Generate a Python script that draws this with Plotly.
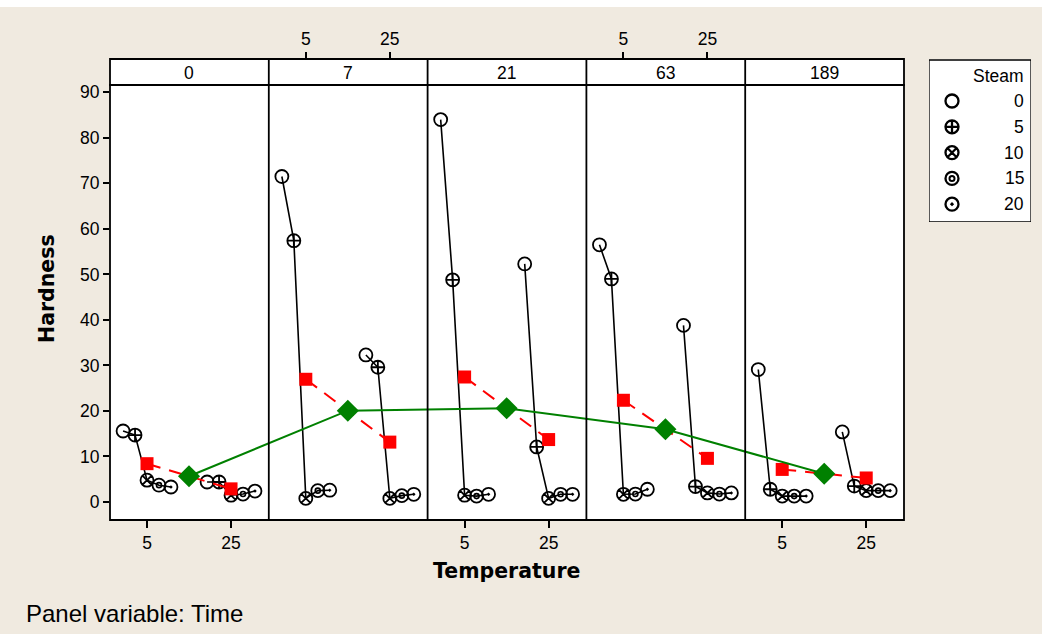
import plotly.graph_objects as go

# ---------------- data ----------------
times = [0, 7, 21, 63, 189]
temperatures = [5, 25]
steam_levels = [0, 5, 10, 15, 20]
# hardness by time (rows) and steam (columns), for each temperature
hardness_temp5 = [
    [15.6, 14.7, 4.8, 3.7, 3.3],
    [71.5, 57.4, 0.8, 2.5, 2.6],
    [84.0, 48.8, 1.5, 1.3, 1.7],
    [56.5, 49.0, 1.7, 1.75, 2.8],
    [29.1, 2.8, 1.3, 1.3, 1.3],
]
hardness_temp25 = [
    [4.4, 4.4, 1.5, 1.75, 2.4],
    [32.3, 29.6, 0.8, 1.4, 1.7],
    [52.3, 12.1, 0.8, 1.7, 1.7],
    [38.8, 3.4, 2.0, 1.75, 2.0],
    [15.4, 3.5, 2.5, 2.5, 2.5],
]
y_ticks = [0, 10, 20, 30, 40, 50, 60, 70, 80, 90]

# ---------------- layout constants ----------------
W, H = 1042, 634
ML, MR, MT, MB = 110, 8, 59, 114
PW, PH = W - ML - MR, H - MT - MB
PLOT_RIGHT = 904
STRIP_BOTTOM = 85


def px_x(px):
    return (px - ML) / PW


def px_y(py):
    return (H - MB - py) / PH


PANEL = 37.8          # width of one panel in x units
X0 = -3.81            # left edge of first panel in x units
STEAM_SHIFT = 0.57    # x dodge per unit of steam
BEIGE = "#F0EAE0"
FONT = "Liberation Sans"

symbols = ["circle-open", "circle-cross-open", "circle-x-open", "circle-open", "circle-open-dot"]

hard_by_temp = {5: hardness_temp5, 25: hardness_temp25}

fig = go.Figure()

green_x, green_y = [], []
inner_x, inner_y = [], []
for p, t in enumerate(times):
    means = []
    for temp in temperatures:
        vals = hard_by_temp[temp][p]
        xs = [p * PANEL + temp + (s - 10) * STEAM_SHIFT for s in steam_levels]
        fig.add_trace(go.Scatter(
            x=xs, y=vals, mode="lines+markers",
            line=dict(color="black", width=1.6),
            marker=dict(symbol=symbols, size=13, color="black",
                        line=dict(color="black", width=1.8)),
            showlegend=False, hoverinfo="skip"))
        inner_x.append(xs[3])
        inner_y.append(vals[3])
        means.append(sum(vals) / len(vals))
    fig.add_trace(go.Scatter(
        x=[p * PANEL + temp for temp in temperatures], y=means,
        mode="lines+markers",
        line=dict(color="#FF0000", width=2, dash="14px,9px"),
        marker=dict(symbol="square", size=13, color="#FF0000"),
        showlegend=False, hoverinfo="skip"))
    green_x.append(p * PANEL + sum(temperatures) / 2)
    green_y.append(sum(means) / 2)

# inner ring for the steam = 15 symbol
fig.add_trace(go.Scatter(
    x=inner_x, y=inner_y, mode="markers",
    marker=dict(symbol="circle-open", size=5, color="black",
                line=dict(color="black", width=1.6)),
    showlegend=False, hoverinfo="skip"))

fig.add_trace(go.Scatter(
    x=green_x, y=green_y, mode="lines+markers",
    line=dict(color="#008000", width=2),
    marker=dict(symbol="diamond", size=17, color="#008000"),
    showlegend=False, hoverinfo="skip"))

# ticks
bottom_vals, bottom_text, top_vals, top_text = [], [], [], []
for p in range(len(times)):
    for temp in temperatures:
        if p % 2 == 0:
            bottom_vals.append(p * PANEL + temp)
            bottom_text.append(str(temp))
        else:
            top_vals.append(p * PANEL + temp)
            top_text.append(str(temp))

# invisible trace to register the top axis
fig.add_trace(go.Scatter(x=top_vals, y=[None] * len(top_vals), xaxis="x2", yaxis="y",
                         mode="markers", showlegend=False, hoverinfo="skip"))

# custom legend (pixel coordinate axes)
leg_y = [101 + i * 25.8 for i in range(len(steam_levels))]
leg_x = [952] * len(steam_levels)
fig.add_trace(go.Scatter(
    x=leg_x, y=leg_y, xaxis="x3", yaxis="y3", mode="markers",
    marker=dict(symbol=symbols, size=13, color="black",
                line=dict(color="black", width=2.3)),
    showlegend=False, hoverinfo="skip"))
fig.add_trace(go.Scatter(
    x=[leg_x[3]], y=[leg_y[3]], xaxis="x3", yaxis="y3", mode="markers",
    marker=dict(symbol="circle-open", size=5, color="black",
                line=dict(color="black", width=2)),
    showlegend=False, hoverinfo="skip"))

x_range = [X0, X0 + len(times) * PANEL]
tickfont = dict(family=FONT, size=17.5, color="black")

shapes = []
# top white band (web page artefact)
shapes.append(dict(type="rect", xref="paper", yref="paper",
                   x0=px_x(0), x1=px_x(W), y0=px_y(7), y1=px_y(0),
                   fillcolor="white", line=dict(width=0), layer="below"))
# strip background
shapes.append(dict(type="rect", xref="paper", yref="paper",
                   x0=0, x1=px_x(PLOT_RIGHT), y0=px_y(STRIP_BOTTOM), y1=1,
                   fillcolor="white", line=dict(color="black", width=1.8)))
# outer frame of data area
shapes.append(dict(type="rect", xref="paper", yref="paper",
                   x0=0, x1=px_x(PLOT_RIGHT), y0=0, y1=px_y(STRIP_BOTTOM),
                   line=dict(color="black", width=1.8)))
# panel dividers
for p in range(1, len(times)):
    shapes.append(dict(type="line", xref="x", yref="paper",
                       x0=X0 + p * PANEL, x1=X0 + p * PANEL, y0=0, y1=1,
                       line=dict(color="black", width=1.8)))
# legend box
shapes.append(dict(type="rect", xref="x3", yref="y3",
                   x0=929, x1=1031, y0=60, y1=222,
                   fillcolor="white", line=dict(color="black", width=1.3),
                   layer="below"))

annotations = []
for p, t in enumerate(times):
    annotations.append(dict(x=p * PANEL + sum(temperatures) / 2, xref="x",
                            y=px_y(72.5), yref="paper", text=str(t),
                            xanchor="center", yanchor="middle",
                            showarrow=False, font=tickfont))
legfont = dict(family=FONT, size=17.5, color="black")
annotations.append(dict(x=1026, y=76, xref="x3", yref="y3", text="Steam",
                        xanchor="right", yanchor="middle", showarrow=False,
                        font=legfont))
for s, yy in zip(steam_levels, leg_y):
    annotations.append(dict(x=1026, y=yy, xref="x3", yref="y3", text=str(s),
                            xanchor="right", yanchor="middle", showarrow=False,
                            font=legfont))
annotations.append(dict(x=px_x(506), y=px_y(571), xref="paper", yref="paper",
                        text="<b>Temperature</b>", showarrow=False,
                        xanchor="center", yanchor="middle",
                        font=dict(family="DejaVu Sans", size=20.5, color="black")))
annotations.append(dict(x=px_x(47), y=px_y(289), xref="paper", yref="paper",
                        text="<b>Hardness</b>", textangle=-90, showarrow=False,
                        xanchor="center", yanchor="middle",
                        font=dict(family="DejaVu Sans", size=20.5, color="black")))
annotations.append(dict(x=px_x(24), y=px_y(613), xref="paper", yref="paper",
                        text="Panel variable: Time", xanchor="left",
                        yanchor="middle", showarrow=False,
                        font=dict(family=FONT, size=24, color="black")))

fig.update_layout(
    width=W, height=H,
    margin=dict(l=ML, r=MR, t=MT, b=MB, pad=0),
    paper_bgcolor=BEIGE, plot_bgcolor="white",
    showlegend=False,
    xaxis=dict(domain=[0, px_x(PLOT_RIGHT)], range=x_range, tickmode="array",
               tickvals=bottom_vals, ticktext=bottom_text, ticks="outside",
               ticklen=7, tickwidth=1.5, tickcolor="black", tickfont=tickfont,
               showgrid=False, zeroline=False, showline=False),
    xaxis2=dict(overlaying="x", side="top", anchor="free", position=1.0,
                domain=[0, px_x(PLOT_RIGHT)], range=x_range, tickmode="array",
                tickvals=top_vals, ticktext=top_text, ticks="outside",
                ticklen=7, tickwidth=1.5, tickcolor="black", tickfont=tickfont,
                showgrid=False, zeroline=False, showline=False),
    yaxis=dict(domain=[0, px_y(STRIP_BOTTOM)], range=[-3.95, 91.6],
               tickmode="array", tickvals=y_ticks, ticks="outside", ticklen=6,
               tickwidth=1.5, tickcolor="black", tickfont=tickfont,
               showgrid=False, zeroline=False, showline=False),
    xaxis3=dict(domain=[px_x(929), px_x(1031)], range=[929, 1031], visible=False,
                anchor="y3"),
    yaxis3=dict(domain=[px_y(222), px_y(59)], range=[222, 59], visible=False,
                anchor="x3"),
    shapes=shapes,
    annotations=annotations,
)

fig.write_html("out.html", config={"displayModeBar": False},
               post_script="document.body.style.margin='0';")
